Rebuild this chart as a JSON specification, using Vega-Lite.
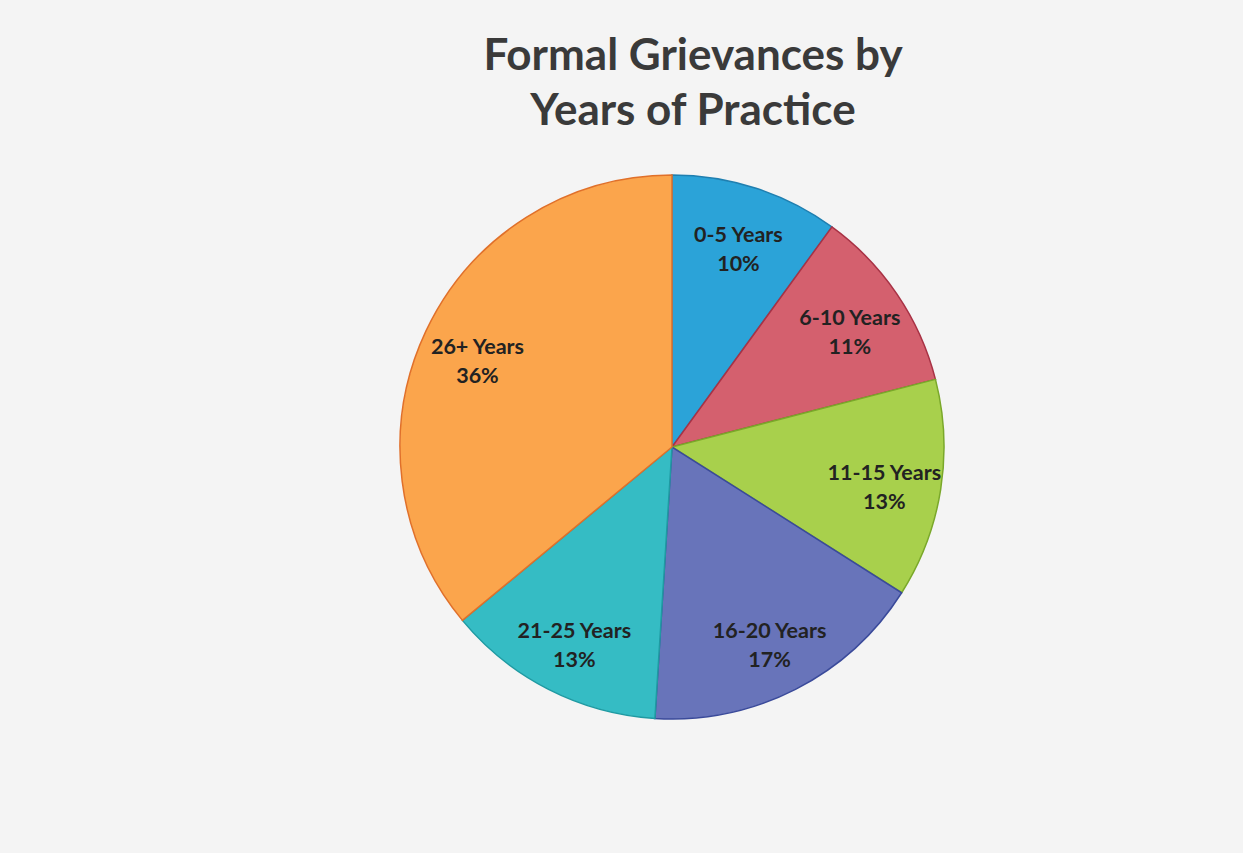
{
  "$schema": "https://vega.github.io/schema/vega-lite/v6.json",
  "autosize": {"type": "none"},
  "width": 1142,
  "height": 544,
  "padding": {"left": 101, "right": 0, "top": 175, "bottom": 134},
  "background": "#f4f4f4",
  "title": {
    "text": ["Formal Grievances by", "Years of Practice"],
    "font": "Lato",
    "fontSize": 44,
    "fontWeight": "bold",
    "color": "#3a3a3a",
    "anchor": "middle",
    "dx": 21,
    "offset": 38,
    "lineHeight": 55
  },
  "data": {
    "values": [
      {"category": "0-5 Years", "pct": "10%", "value": 10, "order": 1},
      {"category": "6-10 Years", "pct": "11%", "value": 11, "order": 2},
      {"category": "11-15 Years", "pct": "13%", "value": 13, "order": 3},
      {"category": "16-20 Years", "pct": "17%", "value": 17, "order": 4},
      {"category": "21-25 Years", "pct": "13%", "value": 13, "order": 5},
      {"category": "26+ Years", "pct": "36%", "value": 36, "order": 6}
    ]
  },
  "encoding": {
    "theta": {"field": "value", "type": "quantitative", "stack": true},
    "order": {"field": "order", "type": "quantitative"}
  },
  "layer": [
    {
      "mark": {"type": "arc", "radius": 272, "strokeWidth": 1.5},
      "encoding": {
        "color": {
          "field": "category",
          "type": "nominal",
          "scale": {
            "domain": ["0-5 Years", "6-10 Years", "11-15 Years", "16-20 Years", "21-25 Years", "26+ Years"],
            "range": ["#2ba3d8", "#d4606e", "#a8d04c", "#6874ba", "#35bcc4", "#fba54c"]
          },
          "legend": null
        },
        "stroke": {
          "field": "category",
          "type": "nominal",
          "scale": {
            "domain": ["0-5 Years", "6-10 Years", "11-15 Years", "16-20 Years", "21-25 Years", "26+ Years"],
            "range": ["#1f7fb0", "#a83245", "#7aa82a", "#3a4a9a", "#1f9aa2", "#e0702a"]
          },
          "legend": null
        }
      }
    },
    {
      "mark": {"type": "text", "radius": 215, "dy": -7, "font": "Lato", "fontSize": 21.5, "fontWeight": "bold", "color": "#222222"},
      "encoding": {"text": {"field": "category"}}
    },
    {
      "mark": {"type": "text", "radius": 215, "dy": 22, "font": "Lato", "fontSize": 21.5, "fontWeight": "bold", "color": "#222222"},
      "encoding": {"text": {"field": "pct"}}
    }
  ]
}
